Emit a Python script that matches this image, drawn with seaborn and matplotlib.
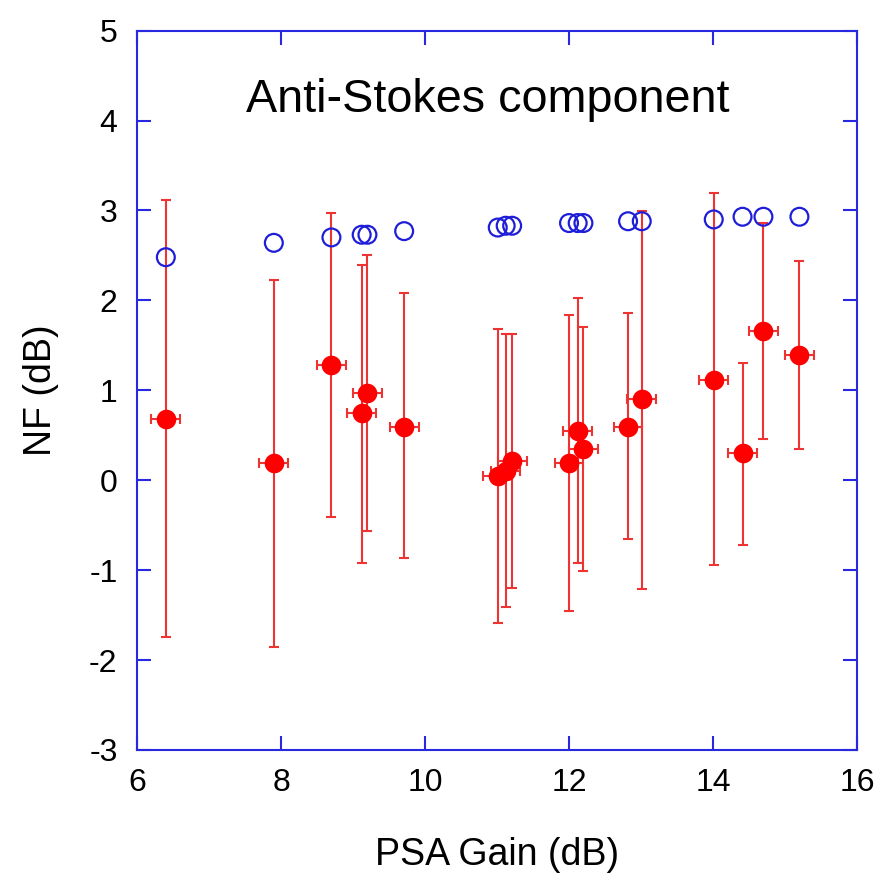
import numpy as np
import pandas as pd
import matplotlib
matplotlib.use("Agg")
import matplotlib.pyplot as plt
import seaborn as sns

# PSA gain (dB) for each measurement
gain = [6.40, 7.90, 8.70, 9.12, 9.20, 9.71, 11.01, 11.12, 11.21,
        12.00, 12.12, 12.20, 12.82, 13.01, 14.01, 14.41, 14.70, 15.20]
# measured NF (dB) and error bar bounds
nf_meas = [0.68, 0.19, 1.28, 0.75, 0.97, 0.59, 0.05, 0.10, 0.21,
           0.19, 0.55, 0.35, 0.59, 0.90, 1.12, 0.30, 1.66, 1.39]
nf_upper = [3.12, 2.23, 2.97, 2.39, 2.50, 2.08, 1.68, 1.63, 1.63,
            1.84, 2.03, 1.70, 1.86, 2.99, 3.19, 1.30, 2.86, 2.44]
nf_lower = [-1.74, -1.85, -0.41, -0.92, -0.56, -0.87, -1.59, -1.41, -1.20,
            -1.46, -0.92, -1.01, -0.65, -1.21, -0.94, -0.72, 0.46, 0.35]
gain_err = 0.2
# theoretical NF (dB)
nf_theory = [2.48, 2.64, 2.70, 2.73, 2.73, 2.77, 2.81, 2.83, 2.83,
             2.86, 2.86, 2.86, 2.88, 2.88, 2.90, 2.93, 2.93, 2.93]

df = pd.DataFrame({"gain": gain, "nf": nf_meas, "hi": nf_upper,
                   "lo": nf_lower, "theory": nf_theory})

sns.set_style("ticks")
plt.rcParams["font.family"] = ["Liberation Sans", "DejaVu Sans"]
plt.rcParams["axes.unicode_minus"] = False
plt.rcParams["text.color"] = "black"
plt.rcParams["axes.labelcolor"] = "black"
plt.rcParams["xtick.labelcolor"] = "black"
plt.rcParams["ytick.labelcolor"] = "black"

axis_blue = "#2828E0"
red = "#FF0000"

fig = plt.figure(figsize=(8.79, 8.75), dpi=100)
ax = fig.add_axes([0.1559, 0.1429, 0.8191, 0.8221])

yerr = np.vstack([df["nf"] - df["lo"], df["hi"] - df["nf"]])
ax.errorbar(df["gain"], df["nf"], yerr=yerr, xerr=gain_err, fmt="none",
            ecolor="#EE3333", elinewidth=1.5, capsize=3.3, capthick=1.5, zorder=2)
sns.scatterplot(data=df, x="gain", y="nf", ax=ax, color=red, s=200,
                edgecolor=red, linewidth=0, zorder=3)
sns.scatterplot(data=df, x="gain", y="theory", ax=ax, s=165, marker="o",
                facecolor="none", edgecolor="#1E1ED8", linewidth=1.6, zorder=4)

ax.set_xlim(6, 16)
ax.set_ylim(-3, 5)
ax.set_xticks([6, 8, 10, 12, 14, 16])
ax.set_yticks(range(-3, 6))
ax.set_xlabel("PSA Gain (dB)", fontsize=27, labelpad=28)
ax.set_ylabel("NF (dB)", fontsize=27, labelpad=22)
ax.tick_params(direction="in", length=10, width=1.5, color=axis_blue,
               labelsize=23, top=True, right=True)
ax.tick_params(axis="x", pad=13)
ax.tick_params(axis="y", pad=14)
for sp in ax.spines.values():
    sp.set_color(axis_blue)
    sp.set_linewidth(1.5)

ax.text(10.875, 4.09, "Anti-Stokes component", fontsize=33.7,
        ha="center", va="baseline")

fig.savefig("out.png", dpi=100)
